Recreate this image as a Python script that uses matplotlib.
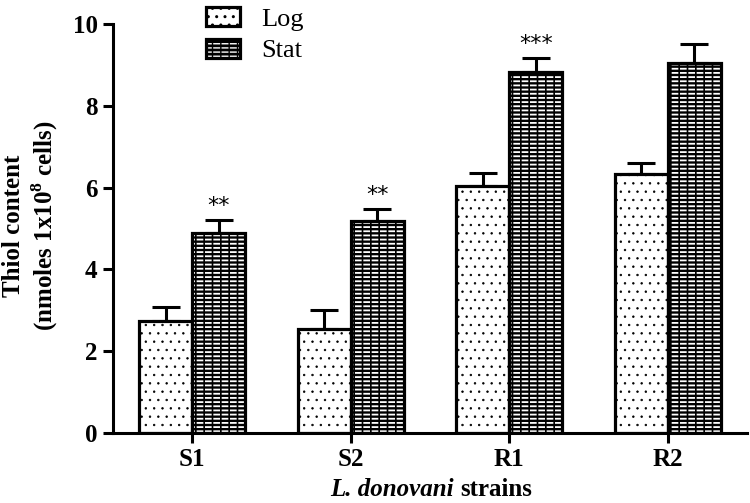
import numpy as np
import matplotlib
matplotlib.use("Agg")
import matplotlib.pyplot as plt
from matplotlib.patches import Patch
from matplotlib.legend_handler import HandlerTuple
from matplotlib.offsetbox import TextArea, HPacker, AnchoredOffsetbox

plt.rcParams['font.family'] = ['Liberation Serif', 'DejaVu Serif']
plt.rcParams['mathtext.fontset'] = 'custom'
plt.rcParams['mathtext.rm'] = 'Liberation Serif'
plt.rcParams['mathtext.bf'] = 'Liberation Serif:bold'

strains = ["S1", "S2", "R1", "R2"]
log_vals = [2.74, 2.54, 6.05, 6.33]
log_err = [0.34, 0.46, 0.30, 0.27]
stat_vals = [4.90, 5.18, 8.82, 9.05]
stat_err = [0.30, 0.29, 0.35, 0.45]
stars = ["**", "**", "***", ""]

fig = plt.figure(figsize=(7.5, 5.03), dpi=100)
ax = fig.add_axes([113 / 750, 1 - 433 / 503, 634 / 750, 409 / 503])

x = np.arange(len(strains))
w = 1 / 3


def set_hlw(bars, lw):
    for b in bars:
        b.set_hatch_linewidth(lw)


# log: white with sparse fine dots
b = ax.bar(x - w / 2, log_vals, w, color="white", edgecolor="black", hatch="..", linewidth=0, zorder=2)
set_hlw(b, 0.5)
ax.bar(x - w / 2, log_vals, w, fill=False, edgecolor="black", linewidth=2.3, zorder=3)
ax.errorbar(x - w / 2, log_vals, yerr=[np.zeros(4), log_err], fmt="none",
            ecolor="black", elinewidth=2.2, capsize=10, capthick=2.2, zorder=1)

# stat: brick-like, black with white rows
b = ax.bar(x + w / 2, stat_vals, w, color="black", edgecolor="white", hatch="----", linewidth=0, zorder=2)
set_hlw(b, 1.3)
b = ax.bar(x + w / 2, stat_vals, w, fill=False, edgecolor="black", hatch="||", linewidth=0, zorder=2.5)
set_hlw(b, 1.2)
ax.bar(x + w / 2, stat_vals, w, fill=False, edgecolor="black", linewidth=2.3, zorder=3)
ax.errorbar(x + w / 2, stat_vals, yerr=[np.zeros(4), stat_err], fmt="none",
            ecolor="black", elinewidth=2.2, capsize=10, capthick=2.2, zorder=1)

for xi, v, e, s in zip(x, stat_vals, stat_err, stars):
    if s:
        ax.text(xi + w / 2, v + e + 0.1, s, ha="center", va="bottom", fontsize=16,
                family="DejaVu Sans")

ax.set_xlim(-0.5, 3.5)
ax.set_ylim(0, 10)
ax.set_yticks([0, 2, 4, 6, 8, 10])
ax.set_xticks(x)
ax.set_xticklabels(strains)
for sp in ["top", "right"]:
    ax.spines[sp].set_visible(False)
for sp in ["left", "bottom"]:
    ax.spines[sp].set_linewidth(2.2)
ax.tick_params(width=2.2, length=7, labelsize=18, pad=4)
for lab in ax.get_xticklabels() + ax.get_yticklabels():
    lab.set_fontweight("bold")

ax.set_ylabel("Thiol content\n(nmoles 1x10$^{\\mathbf{8}}$ cells)", fontsize=18,
              fontweight="bold", linespacing=1.15)
ax.yaxis.label.set_va("center")
ax.yaxis.set_label_coords((31 - 113) / 634, 0.506)

# x label: italic species name + plain bold word
xl = HPacker(children=[
    TextArea("L. donovani", textprops=dict(fontsize=18, fontweight="bold", fontstyle="italic")),
    TextArea("strains", textprops=dict(fontsize=18, fontweight="bold"))],
    align="baseline", pad=0, sep=5)
ab = AnchoredOffsetbox(loc="center", child=xl, frameon=False, pad=0,
                       bbox_to_anchor=(431 / 750, 1 - 489 / 503), bbox_transform=fig.transFigure)
fig.add_artist(ab)

# legend handles: hatched fill + separate black outline, drawn on top of each other
h_log = Patch(facecolor="white", edgecolor="black", hatch="..", linewidth=0)
h_log.set_hatch_linewidth(0.5)
h_stat = Patch(facecolor="black", edgecolor="white", hatch="----", linewidth=0)
h_stat.set_hatch_linewidth(1.3)
h_stat2 = Patch(fill=False, edgecolor="black", hatch="||", linewidth=0)
h_stat2.set_hatch_linewidth(1.2)
outline = Patch(fill=False, edgecolor="black", linewidth=2.3)
leg = fig.legend(handles=[(h_log, outline), (h_stat, h_stat2, outline)], labels=["Log", "Stat"],
                 handler_map={tuple: HandlerTuple(ndivide=1, pad=0)},
                 loc="upper left", bbox_to_anchor=(190 / 750, 1.018),
                 frameon=False, fontsize=19, handlelength=1.3, handleheight=0.75,
                 labelspacing=0.3, handletextpad=0.8, borderpad=0.1)

fig.savefig("out.png", dpi=100)
